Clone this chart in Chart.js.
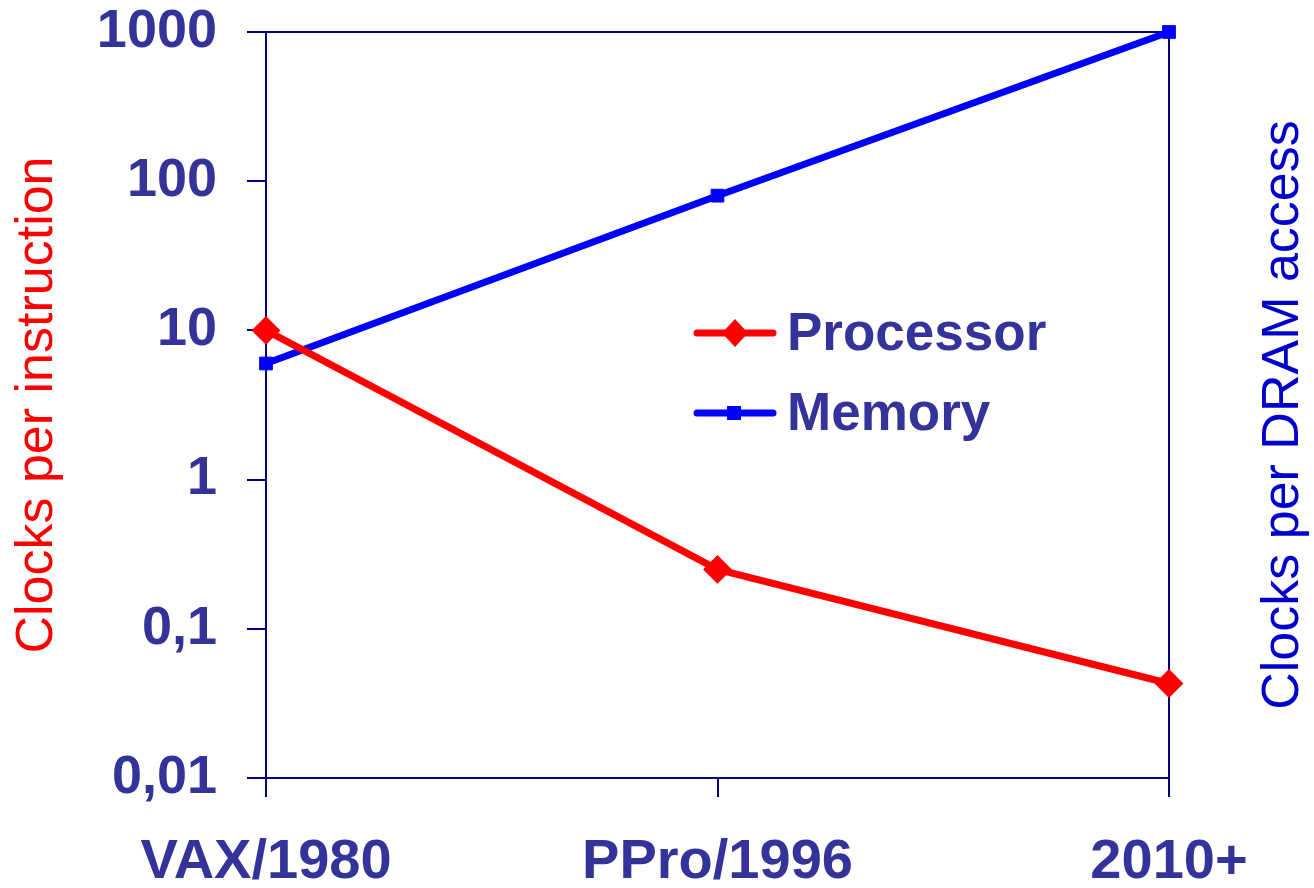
<!DOCTYPE html>
<html>
<head>
<meta charset="utf-8">
<script src="https://cdn.jsdelivr.net/npm/chart.js@4.4.0/dist/chart.umd.min.js"></script>
<style>
html, body { margin: 0; padding: 0; background: #fff; }
#container { width: 1314px; height: 888px; }
</style>
</head>
<body>
<div id="container"><canvas id="myChart"></canvas></div>
<script>
// data
var labels = ['VAX/1980', 'PPro/1996', '2010+'];
var processor = [10, 0.25, 0.043];
var memory = [6, 80, 1000];
var yTicks = [0.01, 0.1, 1, 10, 100, 1000];

var axisCol = '#000080';
var tickCol = '#333399';
var fontFam = "'Liberation Sans', Arial, sans-serif";

// plot frame (top and right sides)
var framePlugin = {
  id: 'frame',
  beforeDatasetsDraw: function (chart) {
    var a = chart.chartArea, ctx = chart.ctx;
    ctx.save();
    ctx.strokeStyle = axisCol;
    ctx.lineWidth = 2;
    ctx.beginPath();
    ctx.moveTo(a.left, a.top);
    ctx.lineTo(a.right, a.top);
    ctx.lineTo(a.right, a.bottom);
    ctx.stroke();
    ctx.restore();
  }
};

// right axis title, reading bottom to top like the left one
var rightTitlePlugin = {
  id: 'rightTitle',
  afterDraw: function (chart) {
    var ctx = chart.ctx;
    var t = chart.options.scales.y2.title;
    ctx.save();
    ctx.translate(1284, 415);
    ctx.rotate(-Math.PI / 2);
    ctx.fillStyle = t.color;
    ctx.font = '52px ' + fontFam;
    ctx.textAlign = 'center';
    ctx.textBaseline = 'middle';
    ctx.fillText(t.text, 0, 0);
    ctx.restore();
  }
};

// legend drawn inside the plot
var legendPlugin = {
  id: 'innerLegend',
  afterDraw: function (chart) {
    var ctx = chart.ctx;
    var rows = [333, 413];
    ctx.save();
    chart.data.datasets.forEach(function (ds, i) {
      var y = rows[i];
      ctx.strokeStyle = ds.borderColor;
      ctx.lineWidth = 7;
      ctx.lineCap = 'round';
      ctx.beginPath();
      ctx.moveTo(697, y);
      ctx.lineTo(773, y);
      ctx.stroke();
      ctx.fillStyle = ds.pointBackgroundColor;
      ctx.beginPath();
      if (ds.pointStyle == 'rectRot') {
        ctx.moveTo(735, y - 14);
        ctx.lineTo(748, y);
        ctx.lineTo(735, y + 14);
        ctx.lineTo(722, y);
      } else {
        ctx.rect(727, y - 7, 14, 14);
      }
      ctx.closePath();
      ctx.fill();
      ctx.fillStyle = tickCol;
      ctx.font = 'bold 53px ' + fontFam;
      ctx.textBaseline = 'middle';
      ctx.textAlign = 'left';
      ctx.fillText(ds.label, 787, y + 2);
    });
    ctx.restore();
  }
};

var config = {
  type: 'line',
  data: {
    labels: labels,
    datasets: [{
      label: 'Processor',
      data: processor,
      borderColor: '#ff0000',
      backgroundColor: '#ff0000',
      pointBackgroundColor: '#ff0000',
      pointBorderColor: '#ff0000',
      pointStyle: 'rectRot',
      pointRadius: 13,
      pointBorderWidth: 2,
      borderWidth: 7,
      tension: 0,
      clip: false,
      yAxisID: 'y'
    }, {
      label: 'Memory',
      data: memory,
      borderColor: '#0000ff',
      backgroundColor: '#0000ff',
      pointBackgroundColor: '#0000ff',
      pointBorderColor: '#0000ff',
      pointStyle: 'rect',
      pointRadius: 9,
      pointBorderWidth: 1,
      borderWidth: 7,
      tension: 0,
      clip: false,
      yAxisID: 'y'
    }]
  },
  options: {
    responsive: true,
    maintainAspectRatio: false,
    animation: false,
    layout: { padding: { top: 32, left: 0, right: 0, bottom: 0 } },
    plugins: {
      legend: { display: false },
      tooltip: { enabled: false }
    },
    scales: {
      x: {
        offset: false,
        grid: { drawOnChartArea: false, drawTicks: true, tickLength: 19, color: axisCol, lineWidth: 2 },
        border: { display: true, color: axisCol, width: 2 },
        ticks: { color: tickCol, padding: 32, maxRotation: 0, autoSkip: false, font: { family: fontFam, size: 56, weight: 'bold' } },
        afterFit: function (scale) {
          scale.height = 110;
          scale.paddingLeft = 0;
          scale.paddingRight = 0;
        }
      },
      y: {
        type: 'logarithmic',
        position: 'left',
        min: 0.01,
        max: 1000,
        afterBuildTicks: function (scale) {
          scale.ticks = yTicks.map(function (v) { return { value: v, major: true }; });
        },
        afterFit: function (scale) {
          scale.width = 266;
          scale.paddingTop = 0;
          scale.paddingBottom = 0;
        },
        grid: { drawOnChartArea: false, drawTicks: true, tickLength: 19, color: axisCol, lineWidth: 2 },
        border: { display: true, color: axisCol, width: 2 },
        ticks: {
          color: tickCol,
          padding: 30,
          font: { family: fontFam, size: 54, weight: 'bold' },
          callback: function (v) { return String(v).replace('.', ','); }
        },
        title: {
          display: true,
          text: 'Clocks per instruction',
          color: '#ff0000',
          padding: { top: 6, bottom: 0 },
          font: { family: fontFam, size: 52, weight: 'normal' }
        }
      },
      y2: {
        type: 'logarithmic',
        position: 'right',
        min: 0.01,
        max: 1000,
        afterFit: function (scale) {
          scale.width = 145;
          scale.paddingTop = 0;
          scale.paddingBottom = 0;
        },
        grid: { display: false },
        border: { display: false },
        ticks: { display: false },
        title: {
          display: false,
          text: 'Clocks per DRAM access',
          color: '#0000cc'
        }
      }
    }
  },
  plugins: [framePlugin, rightTitlePlugin, legendPlugin]
};

var myChart = new Chart(document.getElementById('myChart').getContext('2d'), config);
</script>
</body>
</html>
